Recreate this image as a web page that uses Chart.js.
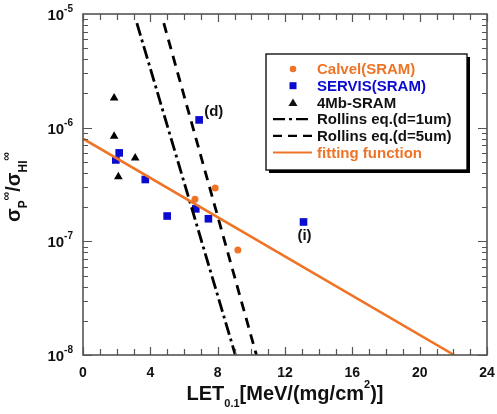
<!DOCTYPE html>
<html>
<head>
  <meta charset="UTF-8">
  <title>sigma vs LET</title>
  <script src="https://cdn.jsdelivr.net/npm/chart.js"></script>
  <style>
    body { margin: 0; background: #fff; }
    #wrap { width: 497px; height: 414px; }
  </style>
</head>
<body>
  <div id="wrap"><canvas id="c"></canvas></div>
  <script>
    // data
    const calvelX = [6.65, 7.85, 9.2];
    const calvelY = [2.35e-7, 2.95e-7, 8.4e-8];
    const servisX = [1.95, 2.15, 3.7, 5.0, 6.7, 6.9, 7.45, 13.1];
    const servisY = [5.2e-7, 6.0e-7, 3.5e-7, 1.67e-7, 1.93e-7, 1.17e-6, 1.58e-7, 1.48e-7];
    const triX = [1.85, 1.85, 3.1, 2.1];
    const triY = [1.82e-6, 8.4e-7, 5.4e-7, 3.7e-7];
    const rollins1X = [3.2, 9.05];
    const rollins1Y = [8.3e-6, 1e-8];
    const rollins5X = [4.8, 10.3];
    const rollins5Y = [8.3e-6, 1e-8];
    const fitX = [0, 22.05];
    const fitY = [8e-7, 1e-8];
    const xTicks = [0, 4, 8, 12, 16, 20, 24];
    const yDecades = [-8, -7, -6, -5];
    const notes = [
      { text: '(d)', x: 6.9, y: 1.17e-6, dx: 5, dy: -8, align: 'left' },
      { text: '(i)', x: 13.1, y: 1.48e-7, dx: 1, dy: 14, align: 'center' }
    ];

    const ORANGE = '#ee7427';
    const BLUE = '#0a0ad0';
    const FONT = 'Arial, "Liberation Sans", sans-serif';

    const pts = (xs, ys) => xs.map((x, i) => ({ x: x, y: ys[i] }));

    // draws ticks, frame, tick labels, titles, notes and legend
    const decor = {
      id: 'decor',
      afterDatasetsDraw(chart) {
        const ctx = chart.ctx;
        const a = chart.chartArea;
        const xs = chart.scales.x, ys = chart.scales.y;
        ctx.save();
        ctx.strokeStyle = '#555';
        ctx.lineWidth = 1.2;
        ctx.beginPath();
        // x ticks every 1 unit, top and bottom
        for (let v = 0; v <= 24; v++) {
          const px = Math.round(xs.getPixelForValue(v)) + 0.5;
          const len = v % 4 === 0 ? 8 : 6;
          ctx.moveTo(px, a.bottom); ctx.lineTo(px, a.bottom - len);
          ctx.moveTo(px, a.top); ctx.lineTo(px, a.top + len);
        }
        // y log ticks, left and right
        for (let d = -8; d < -5; d++) {
          for (let m = 1; m <= 9; m++) {
            const py = Math.round(ys.getPixelForValue(m * Math.pow(10, d))) + 0.5;
            const len = m === 1 ? 9 : 5;
            ctx.moveTo(a.left, py); ctx.lineTo(a.left + len, py);
            ctx.moveTo(a.right, py); ctx.lineTo(a.right - len, py);
          }
        }
        ctx.stroke();
        ctx.lineWidth = 1.6;
        ctx.strokeRect(a.left, a.top, a.right - a.left, a.bottom - a.top);

        ctx.fillStyle = '#111';
        // x tick labels
        ctx.font = 'bold 14px ' + FONT;
        ctx.textAlign = 'center';
        ctx.textBaseline = 'alphabetic';
        xTicks.forEach(v => ctx.fillText(String(v), xs.getPixelForValue(v), a.bottom + 22));

        // y tick labels with superscript
        yDecades.forEach(d => {
          const py = ys.getPixelForValue(Math.pow(10, d));
          ctx.textAlign = 'left';
          const sup = String(d);
          ctx.font = 'bold 10px ' + FONT;
          const sw = ctx.measureText(sup).width;
          ctx.font = 'bold 15px ' + FONT;
          const bw = ctx.measureText('10').width;
          const right = a.left - 10;
          ctx.fillText('10', right - sw - bw, py + 6);
          ctx.font = 'bold 10px ' + FONT;
          ctx.fillText(sup, right - sw, py - 2);
        });

        // x title: LET_0.1[MeV/(mg/cm^2)]
        const parts = [
          { t: 'LET', f: 20, dy: 0 },
          { t: '0.1', f: 11, dy: 7 },
          { t: '[MeV/(mg/cm', f: 20, dy: 0 },
          { t: '2', f: 11, dy: -12 },
          { t: ')]', f: 20, dy: 0 }
        ];
        drawParts(ctx, parts, (a.left + a.right) / 2, 400);

        // y title rotated
        ctx.save();
        ctx.translate(20, 187);
        ctx.rotate(-Math.PI / 2);
        const yparts = [
          { t: 'σ', f: 20, dy: 0 },
          { t: 'P', f: 12, dy: 7 },
          { t: '∞', f: 12, dy: -10 },
          { t: '/σ', f: 20, dy: 0 },
          { t: 'HI', f: 12, dy: 7 },
          { t: '∞', f: 12, dy: -10 }
        ];
        drawParts(ctx, yparts, 0, 0);
        ctx.restore();

        // notes
        ctx.font = 'bold 15px ' + FONT;
        ctx.fillStyle = '#111';
        notes.forEach(n => {
          ctx.textAlign = n.align;
          ctx.textBaseline = 'middle';
          ctx.fillText(n.text, xs.getPixelForValue(n.x) + n.dx, ys.getPixelForValue(n.y) + n.dy);
        });

        // legend
        const lx = 266, ly = 54, lw = 201, lh = 116;
        ctx.fillStyle = '#000';
        ctx.fillRect(lx + 3, ly + 3, lw, lh);
        ctx.fillStyle = '#fff';
        ctx.fillRect(lx, ly, lw, lh);
        ctx.strokeStyle = '#000';
        ctx.lineWidth = 1.3;
        ctx.strokeRect(lx, ly, lw, lh);
        const rows = [
          { label: 'Calvel(SRAM)', color: ORANGE, kind: 'circle' },
          { label: 'SERVIS(SRAM)', color: BLUE, kind: 'square' },
          { label: '4Mb-SRAM', color: '#111', kind: 'tri' },
          { label: 'Rollins eq.(d=1um)', color: '#111', kind: 'line', dash: [12, 4, 3, 4], lc: '#000' },
          { label: 'Rollins eq.(d=5um)', color: '#111', kind: 'line', dash: [9, 6], lc: '#000' },
          { label: 'fitting function', color: ORANGE, kind: 'line', dash: [], lc: ORANGE }
        ];
        rows.forEach((r, i) => {
          const y = 69 + i * 16.7;
          const sx = 293;
          ctx.fillStyle = r.color;
          if (r.kind === 'circle') {
            ctx.beginPath(); ctx.arc(sx, y, 3.3, 0, Math.PI * 2); ctx.fill();
          } else if (r.kind === 'square') {
            ctx.fillRect(sx - 3.5, y - 3.5, 7, 7);
          } else if (r.kind === 'tri') {
            ctx.beginPath(); ctx.moveTo(sx, y - 4); ctx.lineTo(sx + 4.5, y + 3.5); ctx.lineTo(sx - 4.5, y + 3.5); ctx.closePath(); ctx.fill();
          } else {
            ctx.strokeStyle = r.lc;
            ctx.lineWidth = 2.2;
            ctx.setLineDash(r.dash);
            ctx.beginPath(); ctx.moveTo(273, y); ctx.lineTo(312, y); ctx.stroke();
            ctx.setLineDash([]);
          }
          ctx.fillStyle = r.color;
          ctx.font = 'bold 15px ' + FONT;
          ctx.textAlign = 'left';
          ctx.textBaseline = 'middle';
          ctx.fillText(r.label, 317, y + 1);
        });
        ctx.restore();
      }
    };

    // draw a run of text pieces centred on cx, with baseline shifts
    function drawParts(ctx, parts, cx, base) {
      ctx.textAlign = 'left';
      ctx.textBaseline = 'alphabetic';
      ctx.fillStyle = '#111';
      const widths = parts.map(p => {
        ctx.font = 'bold ' + p.f + 'px ' + FONT;
        return ctx.measureText(p.t).width;
      });
      const total = widths.reduce((s, w) => s + w, 0);
      let x = cx - total / 2;
      parts.forEach((p, i) => {
        ctx.font = 'bold ' + p.f + 'px ' + FONT;
        ctx.fillText(p.t, x, base + p.dy);
        x += widths[i];
      });
    }

    new Chart(document.getElementById('c'), {
      type: 'scatter',
      data: {
        datasets: [
          { label: 'fitting function', type: 'line', data: pts(fitX, fitY), borderColor: ORANGE, borderWidth: 2.6, pointRadius: 0, fill: false },
          { label: 'Rollins eq.(d=1um)', type: 'line', data: pts(rollins1X, rollins1Y), borderColor: '#000', borderWidth: 2.8, borderDash: [13, 4, 3, 4], pointRadius: 0, fill: false },
          { label: 'Rollins eq.(d=5um)', type: 'line', data: pts(rollins5X, rollins5Y), borderColor: '#000', borderWidth: 2.8, borderDash: [10, 7], pointRadius: 0, fill: false },
          { label: 'Calvel(SRAM)', data: pts(calvelX, calvelY), backgroundColor: ORANGE, borderWidth: 0, pointRadius: 3.5 },
          { label: 'SERVIS(SRAM)', data: pts(servisX, servisY), backgroundColor: BLUE, borderWidth: 0, pointStyle: 'rect', pointRadius: 5.4 },
          { label: '4Mb-SRAM', data: pts(triX, triY), backgroundColor: '#000', borderWidth: 0, pointStyle: 'triangle', pointRadius: 5 }
        ]
      },
      options: {
        responsive: true,
        maintainAspectRatio: false,
        animation: false,
        layout: { padding: { top: 14, right: 10, left: 0, bottom: 0 } },
        plugins: { legend: { display: false }, tooltip: { enabled: false } },
        scales: {
          x: {
            type: 'linear', min: 0, max: 24,
            grid: { display: false },
            border: { display: false },
            ticks: { display: false },
            afterFit: s => { s.height = 59; }
          },
          y: {
            type: 'logarithmic', min: 1e-8, max: 1e-5,
            grid: { display: false },
            border: { display: false },
            ticks: { display: false },
            afterFit: s => { s.width = 83; }
          }
        }
      },
      plugins: [decor]
    });
  </script>
</body>
</html>
